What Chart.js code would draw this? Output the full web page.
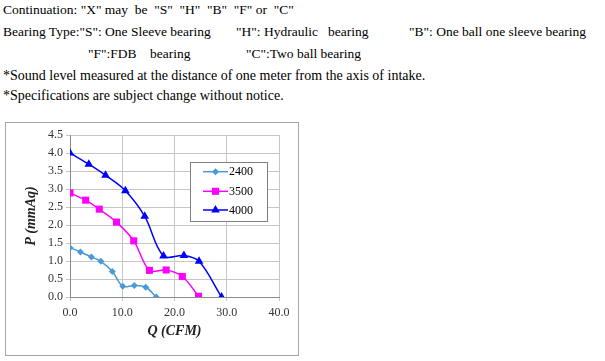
<!DOCTYPE html>
<html>
<head>
<meta charset="utf-8">
<script src="https://cdn.jsdelivr.net/npm/chart.js@4/dist/chart.umd.min.js"></script>
<style>
  html, body { margin: 0; padding: 0; background: #fff; width: 605px; height: 361px; overflow: hidden; }
  .t { position: absolute; font-family: "Liberation Serif", "Times New Roman", serif; font-size: 13.5px; line-height: 16px; color: #000; white-space: pre; }
  .t.b { font-size: 14px; }
  #box { position: absolute; left: 5px; top: 122px; width: 294px; height: 234px; box-sizing: border-box; border: 1px solid #a6a6a6; background: #fff; }
  #box canvas { display: block; }
</style>
</head>
<body>
<div class="t" style="left:3px;top:2px">Continuation: "X" may  be  "S"  "H"  "B"  "F" or  "C"</div>
<div class="t" style="left:3px;top:24px">Bearing Type:"S": One Sleeve bearing</div>
<div class="t" style="left:236px;top:24px">"H": Hydraulic</div>
<div class="t" style="left:328px;top:24px">bearing</div>
<div class="t" style="left:409px;top:24px">"B": One ball one sleeve bearing</div>
<div class="t" style="left:88px;top:46px">"F":FDB</div>
<div class="t" style="left:150px;top:46px">bearing</div>
<div class="t" style="left:246px;top:46px">"C":Two ball bearing</div>
<div class="t b" style="left:3px;top:68px">*Sound level measured at the distance of one meter from the axis of intake.</div>
<div class="t b" style="left:3px;top:88px">*Specifications are subject change without notice.</div>
<div id="box"><canvas id="c" width="292" height="232"></canvas></div>
<script>
// ---- data ----
const seriesNames = ["2400", "3500", "4000"];
const q2400 = [0, 2.0, 4.1, 5.9, 8.1, 10.1, 12.3, 14.5, 16.5];
const p2400 = [1.37, 1.25, 1.11, 0.99, 0.71, 0.30, 0.32, 0.27, 0.0];
const q3500 = [0, 3.0, 5.6, 8.9, 12.2, 15.2, 18.4, 21.5, 24.6];
const p3500 = [2.89, 2.69, 2.44, 2.08, 1.56, 0.74, 0.75, 0.57, 0.02];
const q4000 = [0, 3.6, 6.8, 10.6, 14.3, 17.9, 21.8, 24.7, 29.0];
const p4000 = [4.0, 3.69, 3.38, 2.95, 2.24, 1.14, 1.15, 0.99, 0.0];
const yTicks = [0, 0.5, 1.0, 1.5, 2.0, 2.5, 3.0, 3.5, 4.0, 4.5];
const xTicks = [0, 10, 20, 30, 40];

const toPts = (xs, ys) => xs.map((x, i) => ({ x: x, y: ys[i] }));
const FONT = '"Liberation Serif", "Times New Roman", serif';

const styles = [
  { color: "#4a9ad8", pointStyle: "rectRot", radius: 3.5 },
  { color: "#ff00ff", pointStyle: "rect", radius: 5 },
  { color: "#0000ff", pointStyle: "triangle", radius: 5 }
];
const dataSets = [toPts(q2400, p2400), toPts(q3500, p3500), toPts(q4000, p4000)];

function drawMarker(ctx, style, x, y, r, color) {
  ctx.save();
  ctx.fillStyle = color;
  ctx.beginPath();
  if (style === "rect") {
    const s = Math.SQRT1_2 * r;
    ctx.rect(x - s, y - s, 2 * s, 2 * s);
  } else if (style === "rectRot") {
    ctx.moveTo(x, y - r); ctx.lineTo(x + r, y); ctx.lineTo(x, y + r); ctx.lineTo(x - r, y);
    ctx.closePath();
  } else {
    ctx.moveTo(x, y - r); ctx.lineTo(x + r * 0.866, y + r * 0.5); ctx.lineTo(x - r * 0.866, y + r * 0.5);
    ctx.closePath();
  }
  ctx.fill();
  ctx.restore();
}

const legendPlugin = {
  id: "innerLegend",
  afterDraw(chart) {
    const ctx = chart.ctx;
    const bx = 184.5, by = 39.5, bw = 77, bh = 59;
    ctx.save();
    ctx.fillStyle = "#fff";
    ctx.fillRect(bx, by, bw, bh);
    ctx.strokeStyle = "#7f7f7f";
    ctx.lineWidth = 1;
    ctx.strokeRect(bx, by, bw, bh);
    const ys = [48.7, 68.3, 87];
    chart.data.datasets.forEach((ds, i) => {
      const y = ys[i];
      ctx.strokeStyle = ds.borderColor;
      ctx.lineWidth = 1.5;
      ctx.beginPath(); ctx.moveTo(197, y); ctx.lineTo(222, y); ctx.stroke();
      drawMarker(ctx, styles[i].pointStyle, 209.5, y, styles[i].radius, ds.borderColor);
      ctx.fillStyle = "#000";
      ctx.font = "12px " + FONT;
      ctx.textBaseline = "middle";
      ctx.textAlign = "left";
      ctx.fillText(ds.label, 223, y + 0.5);
    });
    ctx.restore();
  }
};

new Chart(document.getElementById("c"), {
  type: "line",
  data: {
    datasets: seriesNames.map((name, i) => ({
      label: name,
      data: dataSets[i],
      borderColor: styles[i].color,
      backgroundColor: styles[i].color,
      pointBackgroundColor: styles[i].color,
      pointBorderColor: styles[i].color,
      pointStyle: styles[i].pointStyle,
      pointRadius: styles[i].radius,
      pointBorderWidth: 0,
      borderWidth: 1.5,
      tension: 0.35,
      fill: false
    }))
  },
  options: {
    responsive: false,
    animation: false,
    events: [],
    layout: { padding: { left: 0, right: 19, top: 12, bottom: 0 } },
    plugins: { legend: { display: false }, tooltip: { enabled: false } },
    scales: {
      x: {
        type: "linear",
        min: 0, max: 40,
        afterBuildTicks(scale) { scale.ticks = xTicks.map(v => ({ value: v })); },
        afterFit(scale) { scale.height = 58; },
        ticks: { callback: v => Number(v).toFixed(1), color: "#333", font: { family: FONT, size: 12 }, padding: 5, maxRotation: 0 },
        grid: { color: "#c6c6c6", tickLength: 4, lineWidth: 1 },
        border: { color: "#8c8c8c" },
        title: { display: true, text: "Q (CFM)", color: "#222", font: { family: FONT, size: 14, style: "italic", weight: "bold" }, padding: { top: 4, bottom: 15 } }
      },
      y: {
        min: 0, max: 4.5,
        afterBuildTicks(scale) { scale.ticks = yTicks.map(v => ({ value: v })); },
        afterFit(scale) { scale.width = 64; },
        ticks: { callback: v => Number(v).toFixed(1), color: "#333", font: { family: FONT, size: 12 }, padding: 3 },
        grid: { color: "#c6c6c6", tickLength: 4, lineWidth: 1 },
        border: { color: "#8c8c8c" },
        title: { display: true, text: "P (mmAq)", color: "#222", font: { family: FONT, size: 14, style: "italic", weight: "bold" }, padding: { top: 17, bottom: 4 } }
      }
    }
  },
  plugins: [legendPlugin]
});
</script>
</body>
</html>
